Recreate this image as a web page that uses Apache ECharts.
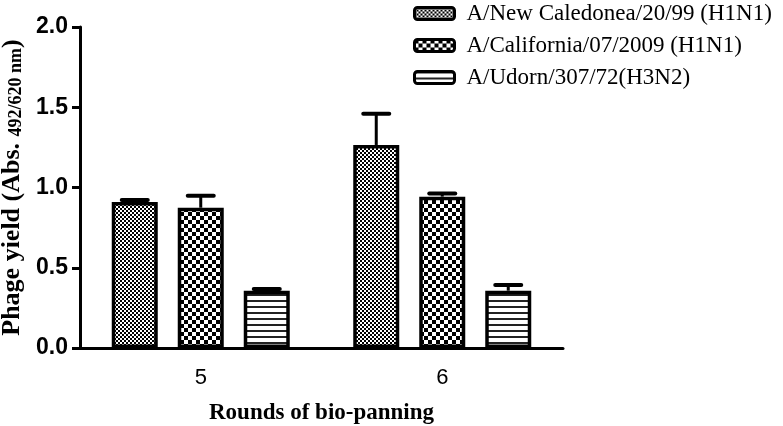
<!DOCTYPE html>
<html>
<head>
<meta charset="utf-8">
<script src="https://cdn.jsdelivr.net/npm/echarts@6/dist/echarts.min.js"></script>
<style>html,body{margin:0;padding:0;background:#fff;}#c{width:783px;height:426px;}</style>
</head>
<body>
<div id="c"></div>
<script>
// ---- data ----
const categories = ['5', '6'];
const seriesNames = ['A/New Caledonea/20/99 (H1N1)', 'A/California/07/2009 (H1N1)', 'A/Udorn/307/72(H3N2)'];
const meanNewCaledonia = [0.91, 1.265];
const errNewCaledonia = [0.012, 0.195];
const meanCalifornia = [0.874, 0.943];
const errCalifornia = [0.075, 0.02];
const meanUdorn = [0.357, 0.357];
const errUdorn = [0.01, 0.035];
const yMin = 0, yMax = 2.0, yInterval = 0.5;

// ---- patterns ----
function pattern(kind) {
  const c = document.createElement('canvas');
  const ctx = c.getContext('2d');
  if (kind === 'fine') {
    c.width = 4; c.height = 4;
    ctx.fillStyle = '#fff'; ctx.fillRect(0, 0, 4, 4);
    ctx.fillStyle = '#000'; ctx.fillRect(0, 0, 2, 2); ctx.fillRect(2, 2, 2, 2);
  } else if (kind === 'checker') {
    c.width = 8; c.height = 8;
    ctx.fillStyle = '#fff'; ctx.fillRect(0, 0, 8, 8);
    ctx.fillStyle = '#000'; ctx.fillRect(0, 0, 4, 4); ctx.fillRect(4, 4, 4, 4);
  } else {
    c.width = 6; c.height = 6;
    ctx.fillStyle = '#fff'; ctx.fillRect(0, 0, 6, 6);
    ctx.fillStyle = '#222'; ctx.fillRect(0, 0, 6, 2);
  }
  return { image: c, repeat: 'repeat' };
}
const fills = [pattern('fine'), pattern('checker'), pattern('stripe')];
const means = [meanNewCaledonia, meanCalifornia, meanUdorn];
const errs = [errNewCaledonia, errCalifornia, errUdorn];

const BAR_W = 46, GAP = 20;
const serif = '"Liberation Serif", "Times New Roman", serif';
const sans = '"Liberation Sans", Arial, sans-serif';

const series = [];
seriesNames.forEach((name, i) => {
  series.push({
    name: name, type: 'bar', barWidth: BAR_W, barGap: (GAP / BAR_W * 100) + '%',
    itemStyle: { color: fills[i], borderColor: '#000', borderWidth: 3.5 },
    data: means[i], z: 2
  });
});
seriesNames.forEach((name, i) => {
  const off = (i - 1) * (BAR_W + GAP);
  series.push({
    type: 'custom', z: 3, silent: true,
    data: categories.map((c, k) => [k, means[i][k], errs[i][k]]),
    renderItem: function (params, api) {
      const base = api.coord([api.value(0), api.value(1)]);
      const top = api.coord([api.value(0), api.value(1) + api.value(2)]);
      const x = base[0] + off;
      const half = 13;
      return {
        type: 'group', children: [
          { type: 'line', shape: { x1: x, y1: base[1], x2: x, y2: top[1] }, style: { stroke: '#000', lineWidth: 3 } },
          { type: 'line', shape: { x1: x - half, y1: top[1], x2: x + half, y2: top[1] }, style: { stroke: '#000', lineWidth: 4, lineCap: 'round' } }
        ]
      };
    }
  });
});

const chart = echarts.init(document.getElementById('c'), null, { renderer: 'canvas' });
chart.setOption({
  animation: false,
  backgroundColor: '#fff',
  grid: { left: 80, right: 220, top: 27, bottom: 78, containLabel: false, outerBoundsMode: 'none' },
  legend: {
    data: seriesNames, orient: 'vertical', left: 408, top: -3,
    itemWidth: 40, itemHeight: 12, itemGap: 9,
    itemStyle: { borderColor: '#000', borderWidth: 3 },
    textStyle: { fontFamily: serif, fontSize: 23, color: '#000', padding: [0, 0, 0, 7] }
  },
  xAxis: {
    type: 'category', data: categories,
    axisLine: { lineStyle: { color: '#000', width: 3 } },
    axisTick: { alignWithLabel: true, length: 8, lineStyle: { color: '#000', width: 3 } },
    axisLabel: { fontFamily: sans, fontSize: 22, color: '#000', margin: 19 },
    name: 'Rounds of bio-panning', nameLocation: 'middle', nameGap: 54, nameMoveOverlap: false,
    nameTextStyle: { fontFamily: serif, fontWeight: 'bold', fontSize: 23, color: '#000' }
  },
  yAxis: {
    type: 'value', min: yMin, max: yMax, interval: yInterval,
    splitLine: { show: false },
    axisLine: { show: true, lineStyle: { color: '#000', width: 3 } },
    axisTick: { show: true, length: 8, lineStyle: { color: '#000', width: 3 } },
    axisLabel: { fontFamily: sans, fontWeight: 'bold', fontSize: 23, color: '#000', margin: 12,
      formatter: v => v.toFixed(1) },
    name: '{a|Phage yield (Abs. }{b|492/620 nm}{a|)}', nameLocation: 'middle', nameGap: 55, nameMoveOverlap: false,
    nameTextStyle: { rich: {
      a: { fontFamily: serif, fontWeight: 'bold', fontSize: 26, color: '#000' },
      b: { fontFamily: serif, fontWeight: 'bold', fontSize: 18, color: '#000', verticalAlign: 'bottom' }
    } }
  },
  series: series
});
</script>
</body>
</html>
